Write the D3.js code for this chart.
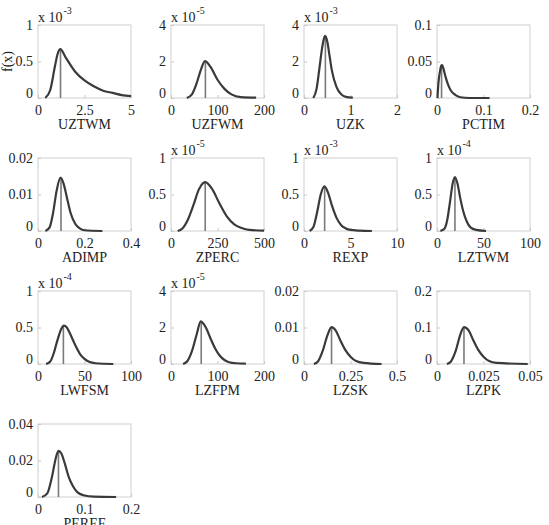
<!DOCTYPE html>
<html>
<head>
<meta charset="utf-8">
<script src="https://cdn.jsdelivr.net/npm/d3@7"></script>
<style>
  body { margin: 0; background: #fff; }
  svg text { font-family: 'Liberation Serif', 'Times New Roman', 'DejaVu Serif', serif !important; fill: #222; }
</style>
</head>
<body>
<div id="chart"></div>
<script>
// PANEL DATA ///////////////////////////////////////////////////////
var names    = ["UZTWM","UZFWM","UZK","PCTIM","ADIMP","ZPERC","REXP","LZTWM","LWFSM","LZFPM","LZSK","LZPK","PEREF"];
var xMax     = [5, 200, 2, 0.2, 0.4, 500, 10, 100, 100, 200, 0.5, 0.05, 0.2];
var yMax     = [1, 4, 4, 0.1, 0.02, 1, 1, 1, 1, 4, 0.02, 0.2, 0.04];
var exponent = [-3, -5, -3, null, null, -5, -3, -4, -4, -5, null, null, null];
var xTicks   = [[0,2.5,5],[0,100,200],[0,1,2],[0,0.1,0.2],[0,0.2,0.4],[0,250,500],[0,5,10],[0,50,100],[0,50,100],[0,100,200],[0,0.25,0.5],[0,0.025,0.05],[0,0.1,0.2]];
var modes    = [1.21, 74, 0.46, 0.0098, 0.099, 184, 2.22, 19.3, 27.3, 65, 0.148, 0.0145, 0.044];

// curve points (x values, y values)
var curveX = [
  [0.39,0.66,0.9,1.05,1.2,1.5,2.0,2.5,3.0,3.5,4.0,4.5,5.0],
  [34,45,55,65,73,85,100,115,130,150,183],
  [0.2,0.27,0.33,0.4,0.45,0.5,0.55,0.6,0.7,0.8,0.9,1.05],
  [0.001,0.003,0.006,0.009,0.011,0.014,0.018,0.024,0.03,0.04,0.05,0.07,0.113],
  [0.032,0.05,0.065,0.08,0.097,0.11,0.125,0.14,0.16,0.18,0.2,0.277],
  [36,60,90,120,150,184,220,260,300,340,380,420,500],
  [0.6,1.0,1.4,1.8,2.2,2.6,3.0,3.5,4.0,4.5,5.0,6.0,7.3],
  [3.6,8,11,14,17,19.3,22,25,28,32,36,42,52.7],
  [8.7,13,17,21,25,27.8,31,35,40,45,50,55,62,81],
  [26,35,45,55,64,75,85,95,105,115,125,140,161],
  [0.053,0.075,0.1,0.125,0.148,0.17,0.195,0.22,0.25,0.28,0.32,0.417],
  [0.0053,0.0075,0.01,0.0125,0.0145,0.017,0.0195,0.022,0.025,0.028,0.032,0.0488],
  [0.0085,0.02,0.03,0.038,0.044,0.05,0.058,0.066,0.075,0.085,0.1,0.12,0.168]
];
var curveY = [
  [0,0.11,0.42,0.6,0.67,0.55,0.36,0.24,0.16,0.1,0.07,0.04,0.025],
  [0,0.2,0.8,1.6,2.02,1.7,1.0,0.5,0.2,0.05,0.02],
  [0,0.5,1.6,2.9,3.4,3.1,2.3,1.5,0.6,0.2,0.06,0.02],
  [0,0.02,0.035,0.044,0.045,0.04,0.03,0.018,0.01,0.004,0.001,0,0],
  [0,0.001,0.005,0.011,0.0146,0.013,0.009,0.005,0.002,0.0007,0.0002,0],
  [0,0.03,0.15,0.35,0.57,0.67,0.58,0.38,0.2,0.09,0.04,0.015,0.005],
  [0,0.05,0.25,0.5,0.61,0.52,0.35,0.18,0.08,0.035,0.015,0.005,0],
  [0,0.03,0.15,0.4,0.66,0.74,0.65,0.45,0.28,0.13,0.05,0.015,0],
  [0,0.03,0.15,0.33,0.48,0.525,0.5,0.4,0.26,0.14,0.07,0.03,0.01,0],
  [0,0.15,0.7,1.6,2.34,2.0,1.4,0.85,0.45,0.22,0.1,0.04,0.02],
  [0,0.0007,0.0035,0.0077,0.0101,0.0092,0.0065,0.004,0.002,0.0008,0.0003,0],
  [0,0.007,0.035,0.08,0.101,0.092,0.065,0.04,0.02,0.008,0.003,0],
  [0,0.002,0.011,0.021,0.0253,0.024,0.018,0.011,0.006,0.0025,0.0008,0.0002,0]
];

// LAYOUT //////////////////////////////////////////////////////////
var width = 549, height = 525;
var colLeft = [38, 171, 304, 437];
var rowTop = [25, 158, 291, 424];
var plotW = 93, plotH = 73;
var serif = "'Liberation Serif', 'Times New Roman', serif";

var svg = d3.select("#chart").append("svg")
  .attr("width", width).attr("height", height)
  .attr("font-family", serif);

var fmt = function(v){ return String(v); };

names.forEach(function(name, i){
  var col = i % 4, row = Math.floor(i / 4);
  var g = svg.append("g").attr("transform", "translate(" + colLeft[col] + "," + rowTop[row] + ")");

  var x = d3.scaleLinear().domain([0, xMax[i]]).range([0, plotW]);
  var y = d3.scaleLinear().domain([0, yMax[i]]).range([plotH, 0]);

  // box
  g.append("rect").attr("width", plotW).attr("height", plotH)
    .attr("fill", "none").attr("stroke", "#d0d0d0").attr("stroke-width", 1);

  // axes (inward ticks, matlab style)
  var xAxis = d3.axisBottom(x).tickValues(xTicks[i]).tickSize(-3).tickPadding(7).tickFormat(fmt);
  var yTicks = [0, yMax[i] / 2, yMax[i]];
  var yAxis = d3.axisLeft(y).tickValues(yTicks).tickSize(-3).tickPadding(5).tickFormat(fmt);

  var gx = g.append("g").attr("transform", "translate(0," + plotH + ")").call(xAxis);
  var gy = g.append("g").call(yAxis);
  [gx, gy].forEach(function(a){
    a.attr("font-family", serif).attr("font-size", 14);
    a.select(".domain").remove();
    a.selectAll(".tick line").attr("stroke", "#c8c8c8");
    a.selectAll(".tick text").attr("fill", "#222");
  });
  gy.selectAll(".tick").filter(function(d){ return d === 0; }).select("text").attr("dy", "-0.05em");

  // exponent
  if (exponent[i] !== null) {
    var t = g.append("text").attr("x", 0).attr("y", -3).attr("font-size", 14);
    t.append("tspan").text("x 10");
    t.append("tspan").attr("dy", -8).attr("dx", 1).attr("font-size", 10).text(exponent[i]);
  }

  // mode line
  var peakIdx = d3.maxIndex(curveY[i]);
  g.append("line")
    .attr("x1", x(modes[i])).attr("x2", x(modes[i]))
    .attr("y1", y(0)).attr("y2", y(curveY[i][peakIdx]))
    .attr("stroke", "#7a7a7a").attr("stroke-width", 1.6);

  // density curve
  var pts = curveX[i].map(function(v, k){ return [v, curveY[i][k]]; });
  var line = d3.line().x(function(d){ return x(d[0]); }).y(function(d){ return y(d[1]); })
    .curve(d3.curveMonotoneX);
  g.append("path").datum(pts).attr("d", line)
    .attr("fill", "none").attr("stroke", "#3a3a3a").attr("stroke-width", 2.2);

  // x label
  g.append("text").attr("x", plotW / 2).attr("y", plotH + 31)
    .attr("text-anchor", "middle").attr("font-size", 14).text(name);
});

// y label
svg.append("text").attr("transform", "translate(12," + (rowTop[0] + plotH / 2) + ") rotate(-90)")
  .attr("text-anchor", "middle").attr("font-size", 14).text("f(x)");
</script>
</body>
</html>
